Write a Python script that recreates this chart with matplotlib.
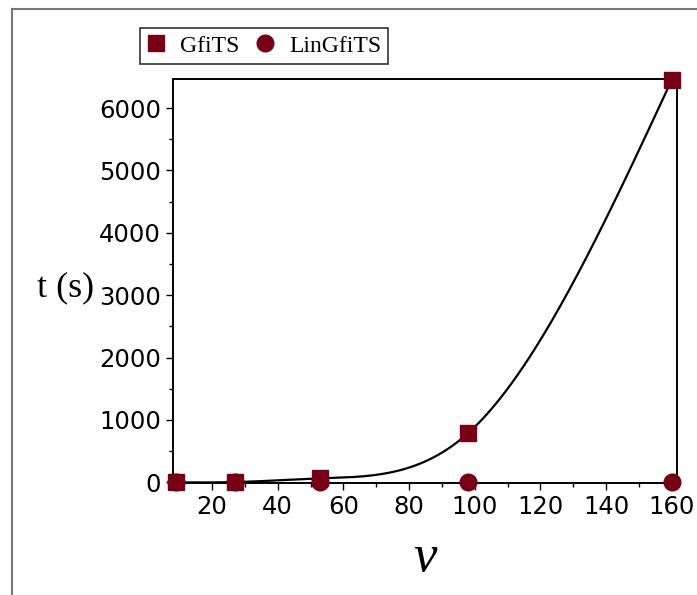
import numpy as np
import matplotlib
matplotlib.use("Agg")
import matplotlib.pyplot as plt
from matplotlib.lines import Line2D
from matplotlib.ticker import MultipleLocator

# data
nu = [9, 27, 53, 98, 160]
gfits = [0, 5, 64, 790, 6450]
lingfits = [0.1, 0.5, 2, 5, 10]

red = '#780014'

# natural cubic spline through the GfiTS points (the fitted curve)
def natural_spline(x, y, xs):
    x = np.asarray(x, float); y = np.asarray(y, float)
    n = len(x)
    h = np.diff(x)
    A = np.zeros((n, n)); b = np.zeros(n)
    A[0, 0] = 1; A[-1, -1] = 1
    for i in range(1, n - 1):
        A[i, i-1] = h[i-1]; A[i, i] = 2*(h[i-1]+h[i]); A[i, i+1] = h[i]
        b[i] = 6*((y[i+1]-y[i])/h[i] - (y[i]-y[i-1])/h[i-1])
    M = np.linalg.solve(A, b)
    out = np.empty_like(xs)
    for k, t in enumerate(xs):
        i = min(max(np.searchsorted(x, t) - 1, 0), n - 2)
        a = x[i+1] - t; c = t - x[i]
        out[k] = (M[i]*a**3 + M[i+1]*c**3)/(6*h[i]) + (y[i]/h[i] - M[i]*h[i]/6)*a + (y[i+1]/h[i] - M[i+1]*h[i]/6)*c
    return out

fig = plt.figure(figsize=(6.97, 5.95), dpi=100)
ax = fig.add_axes([173/697, 1-483/595, (677-173)/697, (483-79)/595])

xs = np.linspace(nu[0], nu[-1], 400)
ax.plot(xs, natural_spline(nu, gfits, xs), color='black', lw=1.6, zorder=2)
ax.plot(nu, lingfits, 'o', color=red, ms=12, ls='none', label='LinGfiTS', zorder=3, clip_on=False)
ax.plot(nu, gfits, 's', color=red, ms=12, ls='none', label='GfiTS', zorder=4, clip_on=False)

ax.set_xlim(8.1, 161.6)
ax.set_ylim(-10, 6465)
ax.set_xticks([20, 40, 60, 80, 100, 120, 140, 160])
ax.xaxis.set_minor_locator(MultipleLocator(10))
ax.set_yticks([0, 1000, 2000, 3000, 4000, 5000, 6000])
ax.yaxis.set_minor_locator(MultipleLocator(500))
ax.tick_params(which='major', direction='out', length=5, width=1, labelsize=17.5)
ax.tick_params(which='minor', direction='out', length=3, width=1)
for s in ax.spines.values():
    s.set_linewidth(1.4)

ax.set_xlabel('ν', fontfamily='Liberation Serif', style='italic', fontsize=38, va='center')
ax.xaxis.set_label_coords(0.5, -0.185)
ax.set_ylabel('t (s)', fontfamily='Liberation Serif', fontsize=26, rotation=0, va='center', ha='center')
ax.yaxis.set_label_coords(-0.214, 0.483)

h, l = ax.get_legend_handles_labels()
leg = fig.legend(h[::-1], l[::-1], loc='center', bbox_to_anchor=(264/697, 1-46/595), ncol=2,
                 prop={'family': 'Liberation Serif', 'size': 17}, frameon=True, fancybox=False,
                 edgecolor='black', handlelength=0.8, handletextpad=0.6, columnspacing=0.7,
                 borderpad=0.3, borderaxespad=0)
leg.get_frame().set_linewidth(1.2)

# outer gray frame
fig.add_artist(Line2D([12/697, 12/697], [0, 1-9/595], color='#777777', lw=1.5))
fig.add_artist(Line2D([12/697, 1], [1-9/595, 1-9/595], color='#777777', lw=1.5))

fig.savefig('out.png', dpi=100)
